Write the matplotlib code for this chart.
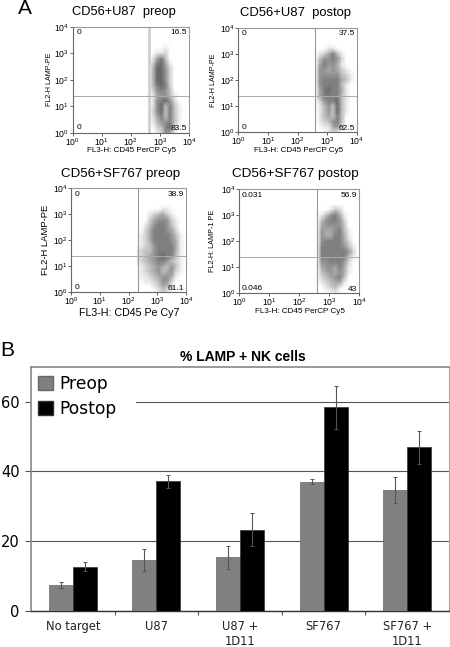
import numpy as np
import matplotlib
matplotlib.use('Agg')
import matplotlib.pyplot as plt
from matplotlib.colors import LinearSegmentedColormap
from matplotlib.patches import Patch, Rectangle

W, H = 450, 647

# density of the flow plots, read by eye: 0 = white, 9 = darkest
# columns are log10 FL3, rows are log10 FL2 from top to bottom
log_x = [2.3, 2.45, 2.6, 2.75, 2.9, 3.05, 3.2, 3.35, 3.5, 3.65, 3.8, 3.95]
log_y = [3.4, 3.2, 3.0, 2.8, 2.6, 2.4, 2.2, 2.0, 1.8, 1.6, 1.4, 1.2, 1.0, 0.8, 0.6, 0.4, 0.2, 0.0]

u87_preop = ['000000000000', '000000100000', '000011200000', '000146300000', '000267410000',
             '000377520000', '000377520000', '000377520000', '000367620000', '000256530000',
             '000145531000', '000156752000', '000157363100', '000257363100', '000146363100',
             '000135563100', '000023672000', '000012541000']
u87_postop = ['000000000000', '000001100000', '000124631000', '000355652000', '000465541000',
              '000554542100', '000555553210', '000566664310', '000566663100', '000467664100',
              '000466663100', '000256673100', '000135373100', '000135373100', '000134363000',
              '000123563000', '000011452000', '000001210000']
sf767_preop = ['000000000000', '000000110000', '000123421000', '000245552100', '001356653100',
               '002466654200', '012466665310', '012466665410', '012356666410', '123356666410',
               '123456766310', '123456653210', '012345435310', '012345345210', '011234554100',
               '001123552000', '000012431000', '000001210000']
sf767_postop = ['000000000000', '000001320000', '000135641000', '000356652000', '000455553000',
                '000544563100', '000544664100', '000566664200', '000666665310', '000666666520',
                '000666666310', '000556665200', '000455464100', '000345454100', '000234563000',
                '000123441000', '000012310000', '000000100000']

# title, y label, x label, quadrant labels (UL, UR, LL, LR), gates
titles = ['CD56+U87  preop', 'CD56+U87  postop', 'CD56+SF767 preop', 'CD56+SF767 postop']
ylabels = ['FL2-H LAMP-PE', 'FL2-H LAMP-PE', 'FL2-H LAMP-PE', 'FL2-H: LAMP-1 PE']
xlabels = ['FL3-H: CD45 PerCP Cy5', 'FL3-H: CD45 PerCP Cy5', 'FL3-H: CD45 Pe Cy7', 'FL3-H: CD45 PerCP Cy5']
quadrants = [['0', '16.5', '0', '83.5'], ['0', '37.5', '0', '62.5'],
             ['0', '38.9', '0', '61.1'], ['0.031', '56.9', '0.046', '43']]
gate_x = [2.62, 2.6, 2.34, 2.6]
gate_y = [1.385, 1.377, 1.396, 1.385]
grids = [u87_preop, u87_postop, sf767_preop, sf767_postop]

# bar chart values
categories = ['No target', 'U87', 'U87 +\n1D11', 'SF767', 'SF767 +\n1D11']
preop = [7.3, 14.5, 15.3, 37.1, 34.6]
postop = [12.6, 37.2, 23.3, 58.4, 46.9]
preop_err = [0.9, 3.1, 3.3, 0.7, 3.8]
postop_err = [1.3, 1.9, 4.7, 6.2, 4.8]


def px_axes(fig, left, top, right, bottom):
    return fig.add_axes([left / W, 1 - bottom / H, (right - left) / W, (bottom - top) / H])


plt.rcParams['font.family'] = 'Liberation Sans'
plt.rcParams['mathtext.default'] = 'regular'
fig = plt.figure(figsize=(W / 100, H / 100), dpi=100)
greys = LinearSegmentedColormap.from_list('cloud', ['#ffffff', '#2a2a2a'])

# Flow plots
boxes = [(72.7, 26.7, 189, 132.7), (238.3, 27.7, 356.7, 132.3),
         (71, 188.3, 186, 292.3), (239, 189.3, 359.3, 293.3)]
title_sizes = [9.3, 9.4, 9.6, 9.7]
title_x = [124, 295, 121, 295]
title_y = [12, 13, 174, 174]
ylabel_sizes = [5.1, 5.1, 6.8, 5.2]
ylabel_gap = [23, 25, 26, 26]
xlabel_sizes = [5.8, 5.8, 7.65, 5.9]
xlabel_gap = [18, 18, 21, 18.5]
left_pad = [0.03, 0.03, 0.03, 0.02]
for i in range(4):
    ax = px_axes(fig, *boxes[i])
    z = np.array([[int(c) for c in row] for row in grids[i]], dtype=float)
    ax.pcolormesh(10.0 ** np.array(log_x), 10.0 ** np.array(log_y), z,
                  shading='gouraud', cmap=greys, vmin=0, vmax=10, rasterized=True)
    ax.set_xscale('log')
    ax.set_yscale('log')
    ax.set_xlim(1, 1e4)
    ax.set_ylim(1, 1e4)
    ax.set_xticks([1, 10, 100, 1000, 10000])
    ax.set_yticks([1, 10, 100, 1000, 10000])
    ax.tick_params(which='major', length=2, width=0.6, labelsize=6.2, pad=0.5, color='#444444')
    ax.tick_params(which='minor', length=1, width=0.4, color='#444444')
    ax.tick_params(axis='y', which='minor', length=0)
    for s in ['top', 'right']:
        ax.spines[s].set_color('#999999')
    for s in ['left', 'bottom']:
        ax.spines[s].set_color('#666666')
    for s in ax.spines.values():
        s.set_linewidth(0.8)
    vcol, vlw = ('#d0d0d0', 2.0) if i == 0 else ('#999999', 0.8)
    ax.axvline(10 ** gate_x[i], color=vcol, lw=vlw)
    ax.axhline(10 ** gate_y[i], color='#aaaaaa', lw=0.7)

    q = quadrants[i]
    ax.text(left_pad[i], 0.945, q[0], transform=ax.transAxes, fontsize=6, va='center', ha='left')
    ax.text(0.985, 0.945, q[1], transform=ax.transAxes, fontsize=6, va='center', ha='right')
    ax.text(left_pad[i], 0.045, q[2], transform=ax.transAxes, fontsize=6, va='center', ha='left')
    ax.text(0.985, 0.04, q[3], transform=ax.transAxes, fontsize=6, va='center', ha='right')

    fig.text(title_x[i] / W, 1 - title_y[i] / H, titles[i], fontsize=title_sizes[i], ha='center', va='center')
    l, t, r, b = boxes[i]
    fig.text(((l + r) / 2 + 1) / W, 1 - (b + xlabel_gap[i]) / H, xlabels[i], fontsize=xlabel_sizes[i],
             ha='center', va='center')
    fig.text((l - ylabel_gap[i]) / W, 1 - ((t + b) / 2) / H, ylabels[i], fontsize=ylabel_sizes[i], rotation=90,
             ha='center', va='center')

fig.text(18 / W, 1 - 8 / H, 'A', fontsize=15, ha='left', va='center')
fig.text(0 / W, 1 - 351 / H, 'B', fontsize=15, ha='left', va='center')

# Bar chart
ax = px_axes(fig, 31, 367, 449, 610.7)
x = np.arange(len(categories))
width = 0.288
err_style = dict(ecolor='#555555', elinewidth=0.8, capsize=1.5, capthick=0.7)
ax.bar(x - width / 2, preop, width, color='#808080', edgecolor='#666666', linewidth=0.5,
       yerr=preop_err, error_kw=err_style, zorder=3)
ax.bar(x + width / 2, postop, width, color='black', edgecolor='#333333', linewidth=0.5,
       yerr=postop_err, error_kw=err_style, zorder=3)
ax.set_xlim(-0.5, 4.5)
ax.set_ylim(0, 70)
ax.set_yticks([0, 20, 40, 60])
ax.set_xticks(np.arange(0.5, 4.5))
ax.set_xticklabels([])
ax.yaxis.grid(True, color='#555555', lw=0.8)
ax.set_axisbelow(True)
ax.tick_params(axis='y', labelsize=10.5, length=4.3, width=0.8, direction='out', pad=4, color='#555555')
ax.tick_params(axis='x', length=3, width=0.8, direction='out', color='#555555')
for lab in ax.get_yticklabels():
    lab.set_family('DejaVu Sans')
for s in ['top', 'left']:
    ax.spines[s].set_color('#888888')
    ax.spines[s].set_linewidth(1.2)
ax.spines['right'].set_color('#aaaaaa')
ax.spines['right'].set_linewidth(0.8)
ax.spines['bottom'].set_color('#333333')
ax.spines['bottom'].set_linewidth(1)
for k, cat in enumerate(categories):
    ax.annotate(cat, (k, 0), xytext=(0, -7), textcoords='offset points', ha='center', va='top',
                fontsize=8.3, family='DejaVu Sans', color='#222222', linespacing=1.15)

# white block behind the legend, the 60 line only starts after it
ax.add_patch(Rectangle((0, 0.8), 105 / 418, 0.2, transform=ax.transAxes, fc='white', ec='none', zorder=1))
handles = [Patch(facecolor='#808080', edgecolor='#666666', label='Preop'),
           Patch(facecolor='black', edgecolor='#333333', label='Postop')]
ax.legend(handles=handles, loc='upper left', bbox_to_anchor=(0.001, 0.995), borderaxespad=0,
          prop={'family': 'DejaVu Sans', 'size': 12.3}, frameon=False,
          handlelength=0.85, handleheight=0.85, handletextpad=0.4, labelspacing=0.4, borderpad=0.4)
fig.text(243 / W, 1 - 357 / H, '% LAMP + NK cells', fontsize=10, fontweight='bold', ha='center', va='center')

fig.savefig('out.png', dpi=100)
